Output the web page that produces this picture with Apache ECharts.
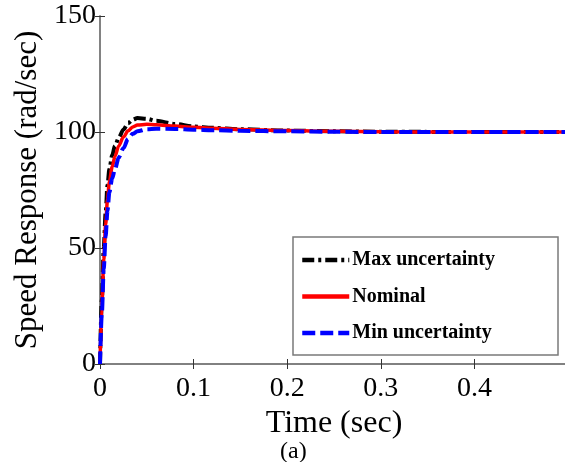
<!DOCTYPE html>
<html>
<head>
<meta charset="utf-8">
<script src="https://cdn.jsdelivr.net/npm/echarts@6/dist/echarts.min.js"></script>
<style>
  html, body { margin: 0; padding: 0; background: #fff; }
  #chart { width: 565px; height: 462px; }
</style>
</head>
<body>
<div id="chart"></div>
<script>
// Sample times (sec)
const timeSec = [0, 0.002, 0.004, 0.006, 0.008, 0.010, 0.013, 0.016, 0.020, 0.025, 0.030, 0.035,
                 0.040, 0.050, 0.060, 0.080, 0.100, 0.120, 0.150, 0.200, 0.250, 0.300, 0.400, 0.500];
// Speed response (rad/sec) for each case
const maxUncertainty = [0, 28, 50, 65, 77, 84, 90, 94, 97.5, 101, 103.8, 105.3,
                        106, 105.7, 104.8, 103.5, 102.4, 101.8, 101.2, 100.6, 100.3, 100.1, 100, 100];
const nominal = [0, 25, 45, 60, 71, 78.5, 85, 89.5, 94, 97.8, 100.5, 102.2,
                 103, 103.3, 103.1, 102.6, 102, 101.6, 101.1, 100.6, 100.3, 100.1, 100, 100];
const minUncertainty = [0, 22, 41, 55, 66, 74, 80, 84, 89, 93, 97, 99.2,
                        100.3, 101.2, 101.4, 101.3, 101, 100.8, 100.5, 100.3, 100.1, 100, 100, 100];
const seriesNames = ['Max uncertainty', 'Nominal', 'Min uncertainty'];
const xTicks = [0, 0.1, 0.2, 0.3, 0.4];
const yTicks = [0, 50, 100, 150];

const pair = (ys) => timeSec.map((t, i) => [t, ys[i]]);
const serif = '"Liberation Serif", "DejaVu Serif", serif';
const axisGrey = '#7a7a7a';

const chart = echarts.init(document.getElementById('chart'), null, { renderer: 'canvas' });

const baseLine = (name, data, color, type, width) => ({
  name, type: 'line', data, symbol: 'none',
  smooth: 0.3, smoothMonotone: 'x',
  lineStyle: { color, width, type },
  itemStyle: { color },
  z: 2
});

chart.setOption({
  animation: false,
  backgroundColor: '#fff',
  grid: { left: 100, right: -3, top: 16, bottom: 98, containLabel: false, outerBoundsMode: 'none' },
  xAxis: [{
    type: 'value', min: 0, max: 0.5, interval: 0.1,
    name: 'Time (sec)', nameLocation: 'middle', nameGap: 39,
    nameTextStyle: { fontFamily: serif, fontSize: 32, color: '#000', verticalAlign: 'top' },
    axisLine: { lineStyle: { color: axisGrey, width: 1.5 } },
    axisTick: { inside: true, length: 5, lineStyle: { color: '#333' } },
    axisLabel: {
      fontFamily: serif, fontSize: 28, color: '#000', margin: 11,
      showMaxLabel: false,
      formatter: v => (xTicks.some(t => Math.abs(t - v) < 1e-9) ? (v === 0 ? '0' : v.toFixed(1)) : '')
    },
    splitLine: { show: false }
  }, {
    type: 'value', min: 0, max: 0.5, interval: 0.1, position: 'top',
    axisLine: { lineStyle: { color: axisGrey, width: 1.5 } },
    axisTick: { inside: true, length: 5, lineStyle: { color: '#333' } },
    axisLabel: { show: false }, splitLine: { show: false }
  }],
  yAxis: [{
    type: 'value', min: 0, max: 150, interval: 50,
    name: 'Speed Response (rad/sec)', nameLocation: 'middle', nameGap: 57,
    nameTextStyle: { fontFamily: serif, fontSize: 31, color: '#000' },
    axisLine: { show: true, lineStyle: { color: axisGrey, width: 1.5 } },
    axisTick: { show: true, inside: true, length: 5, lineStyle: { color: '#333' } },
    axisLabel: {
      fontFamily: serif, fontSize: 28, color: '#000', margin: 4,
      formatter: v => (yTicks.includes(v) ? String(v) : '')
    },
    splitLine: { show: false }
  }, {
    type: 'value', min: 0, max: 150, interval: 50, position: 'right',
    axisLine: { show: true, lineStyle: { color: axisGrey, width: 1.5 } },
    axisTick: { show: true, inside: true, length: 5, lineStyle: { color: '#333' } },
    axisLabel: { show: false }, splitLine: { show: false }
  }],
  legend: {
    orient: 'vertical', left: 293, top: 237,
    data: seriesNames,
    itemWidth: 47, itemHeight: 14, itemGap: 16.5,
    padding: [13, 63, 12, 7],
    backgroundColor: '#fff',
    borderColor: '#7a7a7a', borderWidth: 1.5, borderRadius: 0,
    itemStyle: { opacity: 0 },
    lineStyle: { width: 4.5 },
    textStyle: { fontFamily: serif, fontSize: 20, fontWeight: 'bold', color: '#000', padding: [0, 0, 0, -2] }
  },
  graphic: [{
    type: 'text', left: 280, top: 440,
    style: { text: '(a)', font: '24px ' + serif, fill: '#000' }
  }],
  series: [
    baseLine(seriesNames[0], pair(maxUncertainty), '#000', [12, 4, 3, 4], 4),
    baseLine(seriesNames[1], pair(nominal), '#ff0000', 'solid', 3.5),
    baseLine(seriesNames[2], pair(minUncertainty), '#0000ff', [13, 5], 4)
  ]
});
</script>
</body>
</html>
